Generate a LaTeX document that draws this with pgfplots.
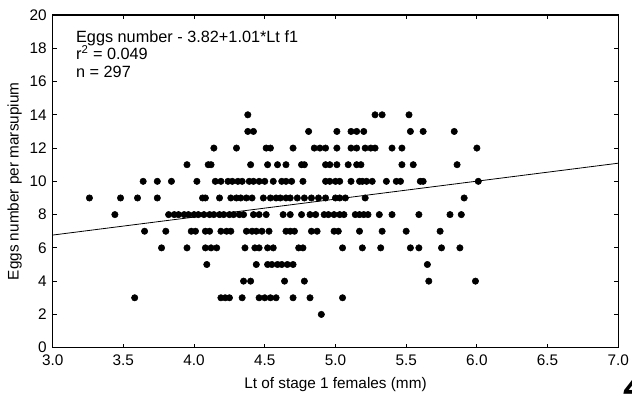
\documentclass[border=0pt]{standalone}
\usepackage{fontspec}
\setmainfont{Liberation Sans}
\usepackage{pgfplots}
\pgfplotsset{compat=1.18}

\begin{document}
\begin{tikzpicture}
\begin{axis}[
    name=ax,
    width=424.2pt, height=249.5pt,
    scale only axis,
    xmin=3, xmax=7, ymin=0, ymax=20,
    xtick={3,3.5,...,7}, ytick={0,2,...,20},
    tick align=inside,
    major tick length=3pt,
    axis line style={line width=0.8pt},
    tick style={black, line width=0.6pt},
    /pgf/number format/assume math mode=true,
    tick label style={font=\fontsize{11.5}{13}\selectfont},
    xticklabel style={yshift=-2pt, /pgf/number format/.cd, fixed, fixed zerofill, precision=1},
    yticklabel style={xshift=-1pt},
    label style={font=\fontsize{11.5}{13}\selectfont},
    xlabel={Lt of stage 1 females (mm)},
    ylabel={Eggs number per marsupium},
    xlabel style={yshift=-2pt},
    ylabel style={yshift=-1pt},
    clip=false,
]
% scatter, grouped by egg count
\addplot[only marks, mark=*, mark size=2.4pt, black] table {
x y
4.38 14
5.28 14
5.33 14
5.52 14
4.38 13
4.42 13
4.81 13
5.01 13
5.11 13
5.15 13
5.20 13
5.53 13
5.62 13
5.84 13
4.14 12
4.30 12
4.51 12
4.54 12
4.70 12
4.85 12
4.89 12
4.93 12
5.01 12
5.11 12
5.15 12
5.21 12
5.25 12
5.28 12
5.40 12
5.47 12
6.00 12
3.95 11
4.10 11
4.12 11
4.40 11
4.52 11
4.59 11
4.65 11
4.76 11
4.78 11
4.93 11
4.96 11
5.01 11
5.09 11
5.15 11
5.18 11
5.47 11
5.55 11
5.86 11
3.64 10
3.74 10
3.84 10
4.02 10
4.15 10
4.19 10
4.24 10
4.27 10
4.31 10
4.34 10
4.39 10
4.42 10
4.46 10
4.50 10
4.56 10
4.62 10
4.65 10
4.69 10
4.77 10
4.93 10
4.96 10
5.00 10
5.03 10
5.11 10
5.17 10
5.19 10
5.22 10
5.26 10
5.36 10
5.43 10
5.46 10
5.60 10
5.62 10
6.01 10
3.26 9
3.48 9
3.60 9
3.74 9
4.06 9
4.08 9
4.18 9
4.26 9
4.30 9
4.33 9
4.37 9
4.41 9
4.49 9
4.54 9
4.58 9
4.61 9
4.65 9
4.68 9
4.73 9
4.78 9
4.83 9
4.88 9
4.93 9
5.00 9
5.03 9
5.07 9
5.21 9
5.91 9
3.44 8
3.82 8
3.86 8
3.89 8
3.93 8
3.96 8
4.00 8
4.03 8
4.07 8
4.11 8
4.14 8
4.18 8
4.21 8
4.25 8
4.28 8
4.32 8
4.35 8
4.42 8
4.46 8
4.51 8
4.63 8
4.68 8
4.76 8
4.82 8
4.86 8
4.92 8
4.95 8
4.99 8
5.03 8
5.06 8
5.14 8
5.17 8
5.20 8
5.23 8
5.31 8
5.40 8
5.59 8
5.81 8
5.89 8
3.65 7
3.80 7
3.98 7
4.01 7
4.08 7
4.11 7
4.19 7
4.23 7
4.26 7
4.37 7
4.41 7
4.44 7
4.48 7
4.53 7
4.65 7
4.68 7
4.71 7
4.83 7
4.87 7
4.99 7
5.02 7
5.17 7
5.33 7
5.50 7
5.74 7
3.77 6
3.95 6
4.08 6
4.12 6
4.16 6
4.36 6
4.43 6
4.46 6
4.52 6
4.56 6
4.74 6
4.77 6
5.05 6
5.19 6
5.32 6
5.53 6
5.59 6
5.75 6
5.88 6
4.09 5
4.44 5
4.52 5
4.55 5
4.59 5
4.62 5
4.66 5
4.70 5
5.65 5
4.35 4
4.40 4
4.64 4
4.78 4
5.66 4
5.99 4
3.58 3
4.19 3
4.22 3
4.25 3
4.34 3
4.46 3
4.50 3
4.54 3
4.58 3
4.70 3
4.82 3
5.05 3
4.90 2
};
% fitted line
\addplot[black, line width=0.6pt, no marks] coordinates {(3,6.77) (7,11.09)};

\node[anchor=north west, align=left, inner sep=0pt,
      font=\fontsize{12.2}{13.2}\selectfont]
    at (rel axis cs:0.041,0.955)
    {Eggs number - 3.82+1.01*Lt f1\\
     r\textsuperscript{2} = 0.049\\
     n = 297};
\end{axis}
\node[font=\fontsize{28}{28}\selectfont\bfseries\itshape, anchor=base west]
    at ([xshift=1.5pt, yshift=-39pt]ax.south east) {4};
\pgfresetboundingbox
\path[use as bounding box] ([xshift=-39.5pt, yshift=-39.2pt]ax.south west)
    rectangle ([xshift=10.3pt, yshift=11.25pt]ax.north east);
\end{tikzpicture}
\end{document}
